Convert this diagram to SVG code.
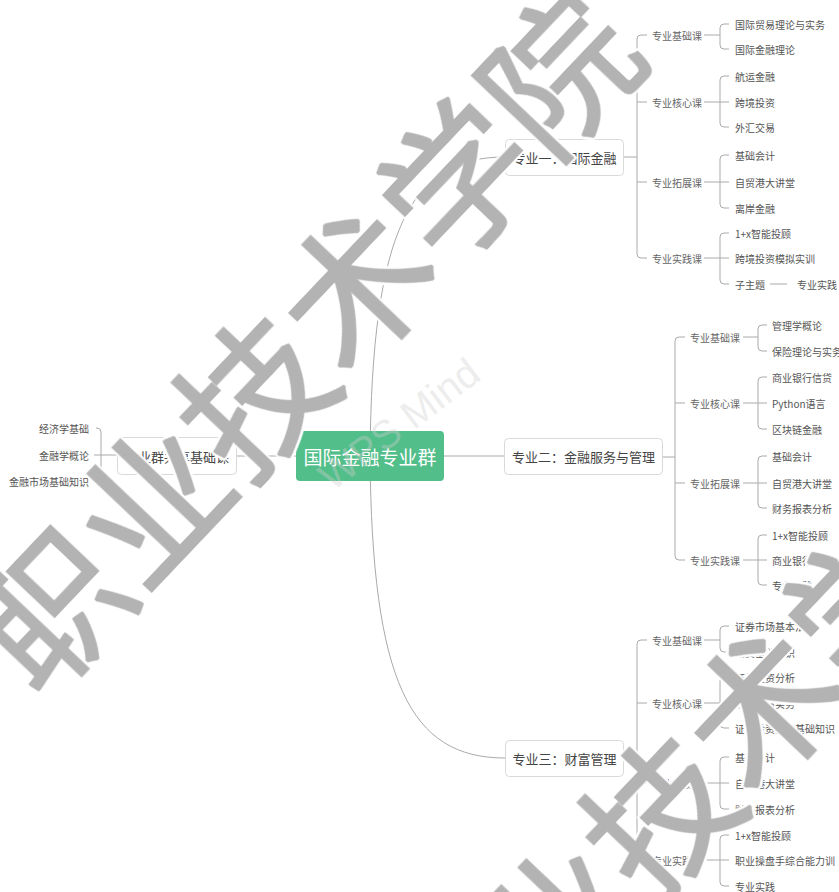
<svg xmlns="http://www.w3.org/2000/svg" width="839" height="892" viewBox="0 0 839 892">
<style>
text { font-family: "Noto Sans CJK SC", "Noto Sans", sans-serif; dominant-baseline: central; }
.leaf { font-size: 10px; fill: #555; }
.mid { font-size: 10px; fill: #666; }
.box rect { fill: #fff; stroke: #d9d9d9; stroke-width: 1; }
.box text { font-size: 13px; fill: #444; text-anchor: middle; }
.ln { fill: none; stroke: #aaa; stroke-width: 1; }
.wm { font-size: 148px; fill: #b3b3b3; dominant-baseline: alphabetic; filter: url(#wmf); }
.wps { font-family: "Liberation Sans", sans-serif; font-size: 40px; fill: #d0d0d0; fill-opacity: 0.4; dominant-baseline: alphabetic; }
</style>
<defs>
  <filter id="wmf" x="-5%" y="-20%" width="110%" height="140%">
    <feMorphology in="SourceAlpha" operator="dilate" radius="1" result="a"/>
    <feMorphology in="SourceAlpha" operator="dilate" radius="3" result="b"/>
    <feFlood flood-color="#ffffff" result="w"/>
    <feComposite in="w" in2="b" operator="in" result="wo"/>
    <feFlood flood-color="#b3b3b3" result="gc"/>
    <feComposite in="gc" in2="a" operator="in" result="g"/>
    <feMerge><feMergeNode in="wo"/><feMergeNode in="g"/></feMerge>
  </filter>
</defs>
<rect width="839" height="892" fill="#fff"/>
<g id="connectors" class="ln">
  <path d="M370,456 C372,230 410,157 505,157"/>
  <path d="M370,456 C372,682 410,758 505,758"/>
  <path d="M236,456 H296"/>
  <path d="M444,456 H504"/>
  <path d="M96,428 H97 Q101,428 101,432 V477 Q101,481 97,481 H96"/>
  <path d="M94,455 H117"/>
  <path d="M623,157 H637"/>
  <path d="M647,35 H641 Q637,35 637,39 V254 Q637,258 641,258 H647"/>
  <path d="M637,102 H647 M637,182 H647"/>
  <path d="M704,35 H720"/>
  <path d="M729,24 H724 Q720,24 720,28 V45 Q720,49 724,49 H729"/>
  <path d="M729,76 H724 Q720,76 720,80 V123 Q720,127 724,127 H729 M704,102 H729"/>
  <path d="M729,155 H724 Q720,155 720,159 V204 Q720,208 724,208 H729 M704,182 H729"/>
  <path d="M729,233 H724 Q720,233 720,237 V280 Q720,284 724,284 H729 M704,258 H729"/>
  <path d="M770,284 H787"/>
  <path d="M662,457 H675"/>
  <path d="M685,337 H679 Q675,337 675,341 V556 Q675,560 679,560 H685"/>
  <path d="M675,403 H685 M675,483 H685"/>
  <path d="M743,337 H758"/>
  <path d="M767,325 H762 Q758,325 758,329 V347 Q758,351 762,351 H767"/>
  <path d="M767,377 H762 Q758,377 758,381 V425 Q758,429 762,429 H767 M743,403 H767"/>
  <path d="M767,456 H762 Q758,456 758,460 V504 Q758,508 762,508 H767 M743,483 H767"/>
  <path d="M767,535 H762 Q758,535 758,539 V581 Q758,585 762,585 H767 M743,560 H767"/>
  <path d="M623,758 H637"/>
  <path d="M647,640 H641 Q637,640 637,644 V856 Q637,860 641,860 H647"/>
  <path d="M637,703 H647 M637,783 H647"/>
  <path d="M704,640 H720"/>
  <path d="M729,626 H724 Q720,626 720,630 V648 Q720,652 724,652 H729"/>
  <path d="M729,677 H724 Q720,677 720,681 V724 Q720,728 724,728 H729 M704,703 H729"/>
  <path d="M729,757 H724 Q720,757 720,761 V805 Q720,809 724,809 H729 M704,783 H729"/>
  <path d="M729,835 H724 Q720,835 720,839 V882 Q720,886 724,886 H729 M704,860 H729"/>
</g>
<g id="root">
  <rect x="296" y="431" width="148" height="50" rx="4" fill="#52be8a"/>
  <text x="370" y="456" font-size="19" fill="#fff" text-anchor="middle">国际金融专业群</text>
</g>
<g id="shared" class="box">
  <rect x="117.5" y="437.5" width="119" height="37" rx="4"/>
  <text x="177" y="456">专业群共享基础课</text>
</g>
<g id="major1" class="box">
  <rect x="505.5" y="139.5" width="118" height="36" rx="4"/>
  <text x="564.5" y="157">专业一：国际金融</text>
</g>
<g id="major2" class="box">
  <rect x="504.5" y="438.5" width="158" height="36" rx="4"/>
  <text x="583.5" y="456.5">专业二：金融服务与管理</text>
</g>
<g id="major3" class="box">
  <rect x="505.5" y="740.5" width="118" height="36" rx="4"/>
  <text x="564.5" y="758">专业三：财富管理</text>
</g>
<g id="shared-leaves" class="leaf" text-anchor="end">
  <g id="s1"><text x="89" y="428">经济学基础</text></g>
  <g id="s2"><text x="89" y="455">金融学概论</text></g>
  <g id="s3"><text x="89" y="481">金融市场基础知识</text></g>
</g>
<g id="m1-cats" class="mid">
  <g id="m1c1"><text x="652" y="35">专业基础课</text></g>
  <g id="m1c2"><text x="652" y="102">专业核心课</text></g>
  <g id="m1c3"><text x="652" y="182">专业拓展课</text></g>
  <g id="m1c4"><text x="652" y="258">专业实践课</text></g>
</g>
<g id="m1-leaves" class="leaf">
  <g id="m1l1"><text x="735" y="24">国际贸易理论与实务</text></g>
  <g id="m1l2"><text x="735" y="49">国际金融理论</text></g>
  <g id="m1l3"><text x="735" y="76">航运金融</text></g>
  <g id="m1l4"><text x="735" y="102">跨境投资</text></g>
  <g id="m1l5"><text x="735" y="127">外汇交易</text></g>
  <g id="m1l6"><text x="735" y="155">基础会计</text></g>
  <g id="m1l7"><text x="735" y="182">自贸港大讲堂</text></g>
  <g id="m1l8"><text x="735" y="208">离岸金融</text></g>
  <g id="m1l9"><text x="735" y="233">1+x智能投顾</text></g>
  <g id="m1l10"><text x="735" y="258">跨境投资模拟实训</text></g>
  <g id="m1l11"><text x="735" y="284">子主题</text></g>
  <g id="m1l12"><text x="797" y="284">专业实践</text></g>
</g>
<g id="m2-cats" class="mid">
  <g id="m2c1"><text x="690" y="337">专业基础课</text></g>
  <g id="m2c2"><text x="690" y="403">专业核心课</text></g>
  <g id="m2c3"><text x="690" y="483">专业拓展课</text></g>
  <g id="m2c4"><text x="690" y="560">专业实践课</text></g>
</g>
<g id="m2-leaves" class="leaf">
  <g id="m2l1"><text x="772" y="325">管理学概论</text></g>
  <g id="m2l2"><text x="772" y="351">保险理论与实务</text></g>
  <g id="m2l3"><text x="772" y="377">商业银行信贷</text></g>
  <g id="m2l4"><text x="772" y="403">Python语言</text></g>
  <g id="m2l5"><text x="772" y="429">区块链金融</text></g>
  <g id="m2l6"><text x="772" y="456">基础会计</text></g>
  <g id="m2l7"><text x="772" y="483">自贸港大讲堂</text></g>
  <g id="m2l8"><text x="772" y="508">财务报表分析</text></g>
  <g id="m2l9"><text x="772" y="535">1+x智能投顾</text></g>
  <g id="m2l10"><text x="772" y="560">商业银行实训</text></g>
  <g id="m2l11"><text x="772" y="585">专业实践</text></g>
</g>
<g id="m3-cats" class="mid">
  <g id="m3c1"><text x="652" y="640">专业基础课</text></g>
  <g id="m3c2"><text x="652" y="703">专业核心课</text></g>
  <g id="m3c3"><text x="652" y="783">专业拓展课</text></g>
  <g id="m3c4"><text x="652" y="860">专业实践课</text></g>
</g>
<g id="m3-leaves" class="leaf">
  <g id="m3l1"><text x="735" y="626">证券市场基本法规</text></g>
  <g id="m3l2"><text x="735" y="652">期货基础知识</text></g>
  <g id="m3l3"><text x="735" y="677">证券投资分析</text></g>
  <g id="m3l4"><text x="735" y="703">期货交易实务</text></g>
  <g id="m3l5"><text x="735" y="728">证券投资基金基础知识</text></g>
  <g id="m3l6"><text x="735" y="757">基础会计</text></g>
  <g id="m3l7"><text x="735" y="783">自贸港大讲堂</text></g>
  <g id="m3l8"><text x="735" y="809">财务报表分析</text></g>
  <g id="m3l9"><text x="735" y="835">1+x智能投顾</text></g>
  <g id="m3l10"><text x="735" y="860">职业操盘手综合能力训</text></g>
  <g id="m3l11"><text x="735" y="886">专业实践</text></g>
</g>
<g id="watermark">
  <text class="wps" x="332" y="492" transform="rotate(-37 332 492)">WPS Mind</text>
  <text class="wm" x="40" y="702" transform="rotate(-46.5 40 702)">职业技术学院</text>
  <text class="wm" x="446" y="1122" transform="rotate(-46.5 446 1122)">职业技术学院</text>
</g>
</svg>
